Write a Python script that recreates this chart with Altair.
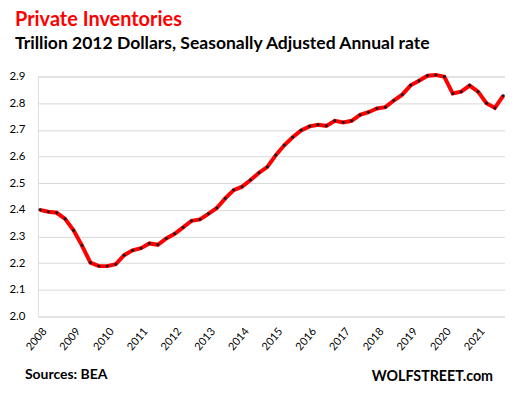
import altair as alt
import pandas as pd

# Private inventories, trillion 2012 dollars (quarterly, 2008 Q1 - 2021 Q4)
years = list(range(2008, 2022))
quarters = [1, 2, 3, 4]
values = [2.400, 2.393, 2.389, 2.366, 2.323, 2.266, 2.202, 2.189, 2.189, 2.196,
          2.230, 2.248, 2.256, 2.274, 2.269, 2.293, 2.310, 2.334, 2.359, 2.364,
          2.385, 2.407, 2.443, 2.474, 2.487, 2.512, 2.539, 2.561, 2.605, 2.642,
          2.672, 2.698, 2.713, 2.719, 2.715, 2.734, 2.728, 2.734, 2.756, 2.766,
          2.780, 2.785, 2.810, 2.832, 2.867, 2.884, 2.903, 2.906, 2.899, 2.836,
          2.843, 2.866, 2.843, 2.800, 2.782, 2.828]
y_ticks = [2.0, 2.1, 2.2, 2.3, 2.4, 2.5, 2.6, 2.7, 2.8, 2.9]

title_text = "Private Inventories"
subtitle_text = "Trillion 2012 Dollars, Seasonally Adjusted Annual rate"
source_text = "Sources: BEA"
brand_text = "WOLFSTREET.com"

rows = []
for y in years:
    for q in quarters:
        rows.append({"t": y + (q - 1) / 4, "label": f"{y} Q{q}"})
df = pd.DataFrame(rows[:len(values)])
df["value"] = values

FONT = "Lato"

x_enc = alt.X("t:Q",
              scale=alt.Scale(domain=[2007.941, 2021.80], nice=False, zero=False),
              axis=alt.Axis(values=years, format="d", labelAngle=-50, labelAlign="right",
                            labelBaseline="top", labelPadding=9, grid=False, domain=False,
                            ticks=False, labelFontSize=11, labelColor="#000000",
                            labelFont=FONT, title=None, labelOverlap=False,
                            labelBound=False, labelFlush=False))
y_enc = alt.Y("value:Q",
              scale=alt.Scale(domain=[2.0, 2.9], nice=False, zero=False),
              axis=alt.Axis(values=y_ticks, format=".1f", grid=True, gridColor="#d9d9d9",
                            gridWidth=1, domain=False, ticks=False, labelPadding=13,
                            labelFontSize=11.5, labelColor="#000000", labelFont=FONT,
                            title=None, labelOverlap=False, labelBound=False,
                            labelFlush=False))

line = alt.Chart(df).mark_line(color="#ff0000", strokeWidth=4).encode(x=x_enc, y=y_enc)
pts = alt.Chart(df).mark_point(filled=True, color="#1a1a1a", size=9, opacity=1).encode(
    x=x_enc, y=y_enc)

one = pd.DataFrame({"a": [0]})

def txt(text, x, y, size, color, align="left"):
    return alt.Chart(one).mark_text(text=text, font=FONT, fontSize=size, fontWeight="bold",
                                    color=color, align=align, baseline="alphabetic").encode(
        x=alt.value(x), y=alt.value(y))

title = txt(title_text, -23, -51, 20, "#ff0000")
subtitle = txt(subtitle_text, -23, -28, 17.6, "#000000")
source = txt(source_text, -13, 304, 14, "#000000")
brand = txt(brand_text, 457, 306, 14.3, "#000000", align="right")

chart = alt.layer(line, pts, title, subtitle, source, brand).properties(
    width=469, height=241,
    padding={"left": 30, "top": 68, "right": 0, "bottom": 73},
    autosize=alt.AutoSizeParams(type="none"),
).configure_view(stroke=None).configure(background="white")

chart.save("out.html", embed_options={"renderer": "svg", "actions": False})
